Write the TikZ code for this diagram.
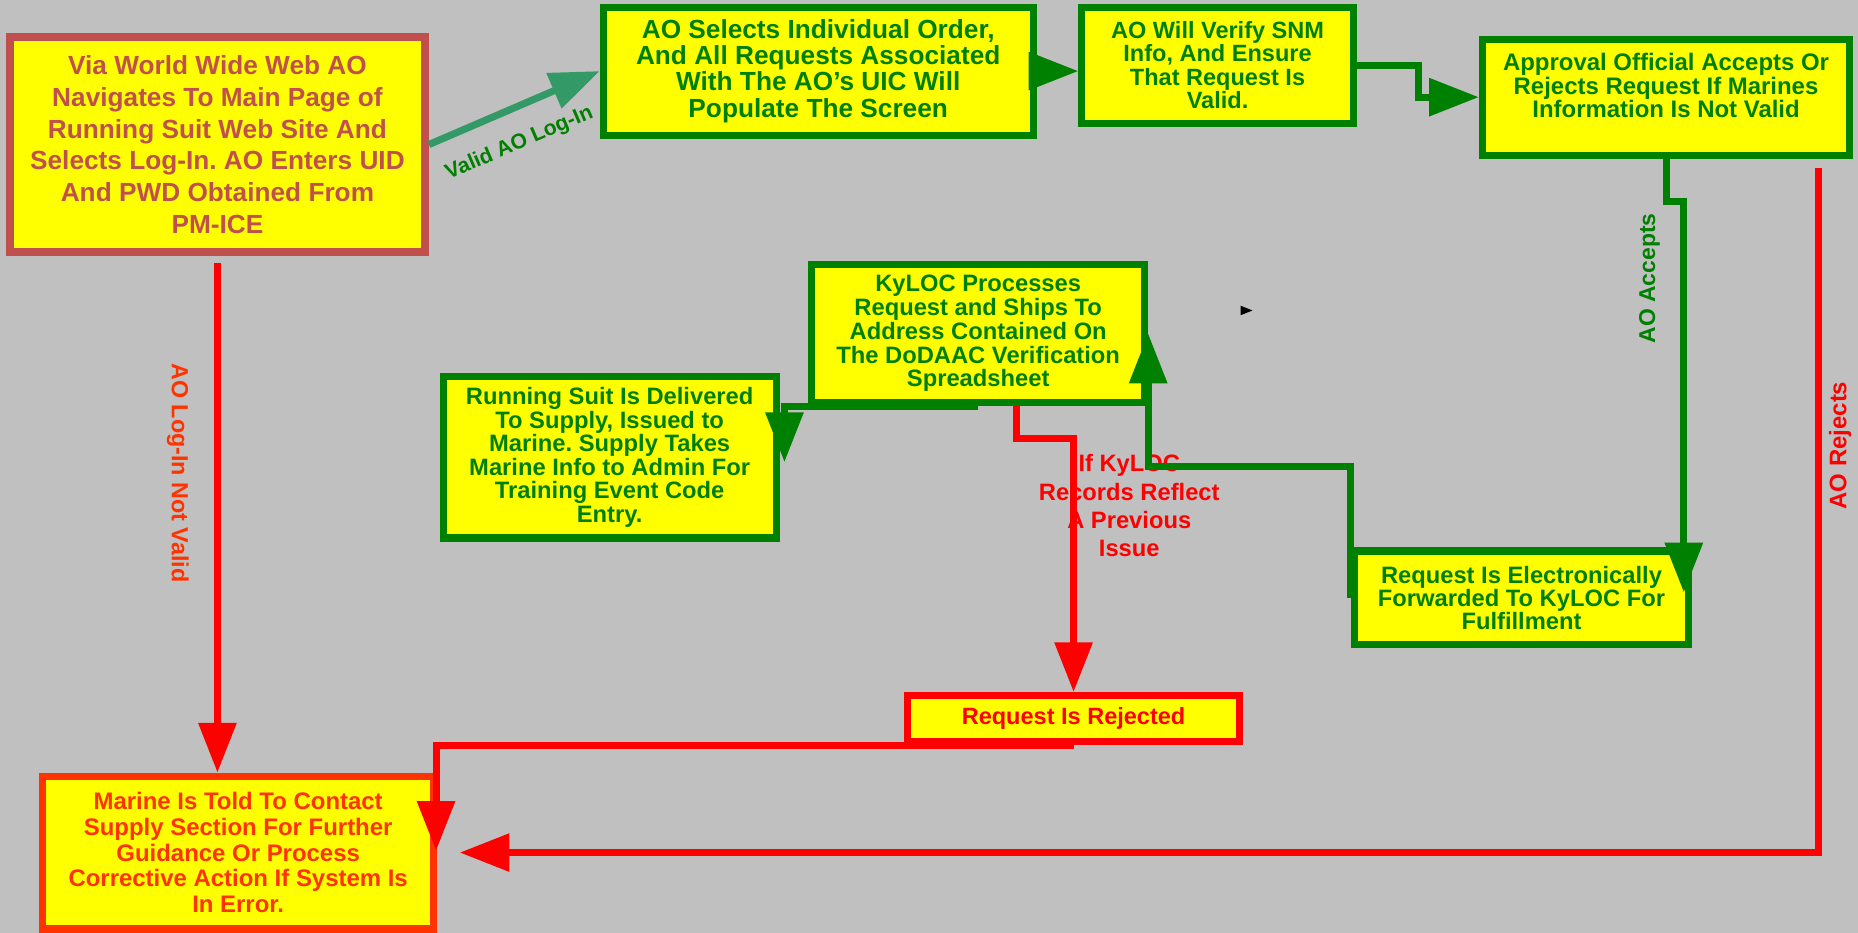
\documentclass[tikz,border=0pt]{standalone}
\usepackage{fontspec}
\setmainfont{Liberation Sans}
\usepackage{xcolor}
\usepackage{tikz}
\usetikzlibrary{arrows.meta, positioning}
\frenchspacing

\definecolor{bggray}{HTML}{C0C0C0}
\definecolor{boxyellow}{HTML}{FFFF00}
\definecolor{boxgreen}{HTML}{008000}
\definecolor{webred}{HTML}{C0504D}
\definecolor{loginteal}{HTML}{339966}
\definecolor{rejred}{HTML}{FF0000}
\definecolor{errorange}{HTML}{FF3300}

\tikzset{
	stepbox/.style={fill=boxyellow, line width=0.12cm, align=center, inner sep=0pt},
	greenbox/.style={stepbox, draw=boxgreen, text=boxgreen},
	flow/.style={line width=0.12cm, -{Triangle[length=0.84cm, width=0.62cm]}},
	greenflow/.style={flow, color=boxgreen},
	redflow/.style={flow, color=rejred},
	tealflow/.style={flow, color=loginteal},
}

\begin{document}
\begin{tikzpicture}[x=0.02cm, y=-0.02cm]
				\fill[bggray] (0,0) rectangle (1568,787);
				\useasboundingbox (0,0) rectangle (1568,787);

				\node[stepbox, draw=webred, text=webred, line width=0.14cm, minimum width=7cm, minimum height=3.62cm, font=\bfseries\fontsize{12.6}{15.2}\selectfont] (web) at (183.5,122) {Via World Wide Web AO\\Navigates To Main Page of\\Running Suit Web Site And\\Selects Log-In. AO Enters UID\\And PWD Obtained From\\PM-ICE};
				\node[greenbox, minimum width=7.26cm, minimum height=2.16cm, font=\bfseries\fontsize{12.6}{12.6}\selectfont] (order) at (690.5,60) {AO Selects Individual Order,\\And All Requests Associated\\With The AO’s UIC Will\\Populate The Screen};
				\node[greenbox, minimum width=4.58cm, minimum height=1.96cm, font=\bfseries\fontsize{11.3}{11.3}\selectfont] (verify) at (1027.5,55) {AO Will Verify SNM\\Info, And Ensure\\That Request Is\\Valid.};
				\node[greenbox, minimum width=6.2cm, minimum height=1.96cm, font=\bfseries\fontsize{11.5}{11.3}\selectfont] (approve) at (1406,82) {Approval Official Accepts Or\\Rejects Request If Marines\\Information Is Not Valid\\\mbox{}};
				\node[greenbox, minimum width=5.62cm, minimum height=2.34cm, font=\bfseries\fontsize{11.4}{11.4}\selectfont] (kyloc) at (825.5,281.5) {KyLOC Processes\\Request and Ships To\\Address Contained On\\The DoDAAC Verification\\Spreadsheet};
				\node[greenbox, minimum width=5.62cm, minimum height=2.72cm, font=\bfseries\fontsize{11.4}{11.3}\selectfont] (deliver) at (514.5,386) {Running Suit Is Delivered\\To Supply, Issued to\\Marine. Supply Takes\\Marine Info to Admin For\\Training Event Code\\Entry.};
				\node[greenbox, minimum width=5.64cm, minimum height=1.58cm, font=\bfseries\fontsize{11.4}{11.1}\selectfont] (forward) at (1284,504.5) {Request Is Electronically\\Forwarded To KyLOC For\\Fulfillment};
				\node[stepbox, draw=rejred, text=rejred, minimum width=5.6cm, minimum height=0.78cm, font=\bfseries\fontsize{11.3}{11.3}\selectfont] (rejected) at (906,606.5) {Request Is Rejected};
				\node[stepbox, draw=errorange, text=errorange, minimum width=6.6cm, minimum height=2.58cm, font=\bfseries\fontsize{11.5}{12.4}\selectfont] (told) at (201,719.5) {Marine Is Told To Contact\\Supply Section For Further\\Guidance Or Process\\Corrective Action If System Is\\In Error.};

				\node[rotate=90, text=boxgreen, font=\bfseries\fontsize{11}{11}\selectfont] (acceptlbl) at (1392,235) {AO Accepts};
				\node[rotate=90, text=rejred, font=\bfseries\fontsize{11.5}{11.5}\selectfont] (rejectlbl) at (1553,376) {AO Rejects};
				\node[rotate=-90, text=errorange, font=\bfseries\fontsize{11.2}{11.2}\selectfont] (invalidlbl) at (150,399) {AO Log-In Not Valid};
				\node[align=center, text=rejred, font=\bfseries\fontsize{11.4}{13.6}\selectfont] (kylocif) at (953,427) {If KyLOC\\Records Reflect\\A Previous\\Issue};

				\coordinate (fwdtip) at (1421,500);
				\coordinate (rejstart) at (1535,142);
				\coordinate (deltip) at (662,390);
				\coordinate (toldtip) at (368,718);

				\draw[tealflow] (web.east) -- node[sloped, below=0.24cm, pos=0.45, text=boxgreen, font=\bfseries\fontsize{10.2}{10.2}\selectfont] (validlbl) {Valid AO Log-In} (order.west);
				\draw[greenflow] (order.east) -- (order.east -| verify.west);
				\draw[greenflow] (verify.east) -- ++(52,0) |- (approve.west);
				\draw[greenflow] (approve.south) -- ++(0,36) -| (fwdtip);
				\draw[redflow] (rejstart) |- ([xshift=0.38cm]told.east);
				\draw[redflow] ([yshift=-0.12cm]web.south) -- (web.south |- told.north);
				\draw[greenflow] (forward.west) -- ++(0,-111) -| (kyloc.east);
				\draw[greenflow] (kyloc.south) -| (deltip);
				\draw[redflow] ([xshift=0.65cm]kyloc.south) -- ++(0,27) -| (rejected.north);
				\draw[redflow] (rejected.south) -| (toldtip);

				\fill (1047,258) -- (1057,262) -- (1047,266) -- cycle;
			\end{tikzpicture}
\end{document}
